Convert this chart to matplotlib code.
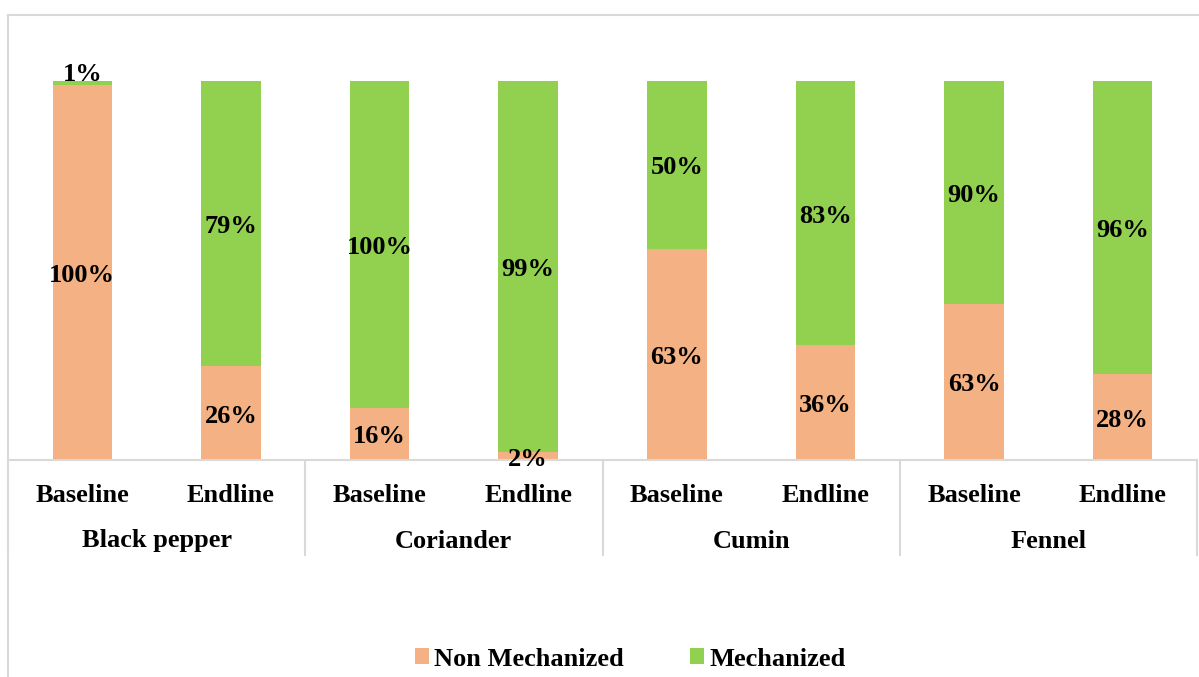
import matplotlib
matplotlib.use("Agg")
import matplotlib.pyplot as plt
from matplotlib.lines import Line2D
from matplotlib.patches import Patch
import matplotlib.transforms as mtransforms

# Share of farmers using each harvesting practice (reported percentages)
crops = ["Black pepper", "Coriander", "Cumin", "Fennel"]
stages = ["Baseline", "Endline"]
non_mechanized = [100, 26, 16, 2, 63, 36, 63, 28]
mechanized = [1, 79, 100, 99, 50, 83, 90, 96]
series_names = ["Non Mechanized", "Mechanized"]

ORANGE = "#F4B183"
GREEN = "#92D050"
GRID = "#D9D9D9"

plt.rcParams["font.family"] = ["Liberation Serif", "DejaVu Serif"]
plt.rcParams["font.weight"] = "bold"
FS = 19

W, H = 1199, 677
fig = plt.figure(figsize=(W / 100, H / 100), dpi=100)

# axes placed in pixel terms
ax_left, ax_right, ax_bottom_px, ax_top_px = 8, 1197, 460, 81
ax = fig.add_axes([ax_left / W, 1 - ax_bottom_px / H,
                   (ax_right - ax_left) / W, (ax_bottom_px - ax_top_px) / H])

# small downward nudge so glyphs sit visually centred
nudge = mtransforms.ScaledTranslation(0, -3 / 100, fig.dpi_scale_trans)

x = list(range(len(non_mechanized)))
totals = [n + m for n, m in zip(non_mechanized, mechanized)]
non_share = [n / t for n, t in zip(non_mechanized, totals)]
mech_share = [m / t for m, t in zip(mechanized, totals)]

ax.bar(x, non_share, width=0.4, color=ORANGE)
ax.bar(x, mech_share, bottom=non_share, width=0.4, color=GREEN)

for xi, n, m, ns, ms in zip(x, non_mechanized, mechanized, non_share, mech_share):
    ax.text(xi, ns / 2, f"{n}%", ha="center", va="center", fontsize=FS,
            fontweight="bold", color="black", transform=ax.transData + nudge)
    yc = ns + ms / 2
    dy = 8 if ms < 0.02 else 0
    t = ax.annotate(f"{m}%", (xi, yc), xytext=(0, dy - 2.16),
                    textcoords="offset points", ha="center", va="center",
                    fontsize=FS, fontweight="bold", color="black")

ax.set_xlim(-0.5, len(x) - 0.5)
ax.set_ylim(0, 1)
ax.set_xticks([])
ax.set_yticks([])
for s in ["left", "right", "top"]:
    ax.spines[s].set_visible(False)
ax.spines["bottom"].set_color(GRID)
ax.spines["bottom"].set_linewidth(1.5)

axh = ax_bottom_px - ax_top_px
trans = mtransforms.blended_transform_factory(ax.transData, ax.transAxes)

# stage labels and crop group labels
for i, xi in enumerate(x):
    ax.text(xi, -32 / axh, stages[i % 2], transform=trans + nudge, ha="center",
            va="center", fontsize=FS, fontweight="bold")
for g, crop in enumerate(crops):
    ax.text(2 * g + 0.5, -78 / axh, crop, transform=trans + nudge, ha="center",
            va="center", fontsize=FS, fontweight="bold")
for g in range(len(crops) + 1):
    xs = 2 * g - 0.5
    ax.add_line(Line2D([xs, xs], [0, -95 / axh], transform=trans,
                       color=GRID, lw=1.5, clip_on=False))

# outer chart frame (top and left edges)
fig.add_artist(Line2D([8 / W, 1], [1 - 15 / H, 1 - 15 / H],
                      transform=fig.transFigure, color=GRID, lw=1.5))
fig.add_artist(Line2D([8 / W, 8 / W], [0, 1 - 15 / H],
                      transform=fig.transFigure, color=GRID, lw=1.5))

handles = [Patch(facecolor=ORANGE, edgecolor="none"),
           Patch(facecolor=GREEN, edgecolor="none")]
fig.legend(handles, series_names, loc="center", bbox_to_anchor=(630 / W, 1 - 659 / H),
           ncol=2, frameon=False, prop={"size": FS, "weight": "bold"},
           handlelength=0.53, handleheight=0.53, handletextpad=0.2,
           columnspacing=2.5, borderaxespad=0, borderpad=0)

fig.savefig("out.png", dpi=100)
